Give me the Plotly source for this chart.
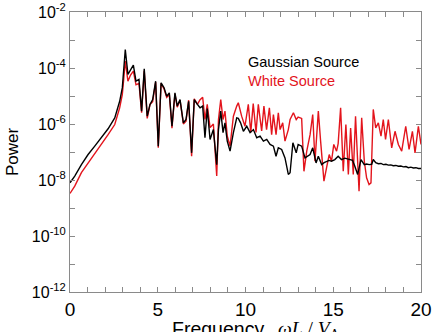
import plotly.graph_objects as go

# Frequency (omega L / V_A) and log10(Power)
freq_gauss = [0.00, 0.27, 0.65, 1.03, 1.41, 1.78, 2.17, 2.55, 2.83, 2.98, 3.06, 3.15, 3.30, 3.45, 3.61,
              3.76, 3.93, 4.08, 4.23, 4.40, 4.56, 4.71, 4.88, 5.03, 5.19, 5.36, 5.51, 5.66, 5.81, 5.98,
              6.11, 6.27, 6.46, 6.61, 6.76, 6.93, 7.08, 7.26, 7.41, 7.56, 7.69, 7.82, 7.98, 8.17, 8.36,
              8.46, 8.59, 8.72, 8.83, 8.96, 9.12, 9.31, 9.50, 9.59, 9.72, 9.88, 10.07, 10.26, 10.45,
              10.64, 10.83, 11.02, 11.21, 11.40, 11.59, 11.74, 11.87, 12.06, 12.25, 12.44, 12.54, 12.70,
              12.89, 13.00, 13.20, 13.39, 13.54, 13.68, 13.83, 14.02, 14.15, 14.34, 14.48, 14.62, 14.76,
              14.90, 15.09, 15.28, 15.47, 15.66, 15.80, 15.95, 16.10, 16.23, 16.39, 16.58, 16.77, 16.90,
              17.05, 17.19, 17.28, 17.42, 17.57, 17.72, 17.85, 18.00, 18.14, 18.28, 18.42, 18.57, 18.71,
              18.85, 19.00, 19.14, 19.28, 19.42, 19.57, 19.71, 19.85, 20.00]
log_power_gauss = [-8.10, -7.86, -7.45, -7.09, -6.79, -6.49, -6.17, -5.78, -5.19, -4.71, -4.17, -3.34, -4.23, -4.05, -3.90,
                   -4.47, -4.41, -5.54, -4.03, -5.72, -5.30, -5.13, -4.47, -6.79, -4.53, -4.71, -5.01, -4.89, -6.08, -4.89,
                   -5.36, -5.13, -5.96, -5.84, -5.19, -7.03, -5.13, -5.30, -5.42, -5.36, -6.49, -5.45, -6.55, -6.20, -7.45,
                   -6.20, -5.54, -6.31, -5.96, -6.61, -6.97, -6.31, -5.78, -5.80, -5.96, -6.26, -6.08, -6.31, -6.20,
                   -6.49, -6.43, -6.61, -6.55, -6.73, -6.79, -7.15, -6.85, -6.91, -7.21, -7.80, -7.74, -6.67,
                   -7.03, -6.73, -6.79, -7.21, -7.15, -7.09, -6.85, -7.39, -7.15, -7.45, -7.38, -7.33, -7.30,
                   -7.33, -7.27, -7.15, -7.27, -7.22, -7.25, -7.27, -7.30, -7.51, -7.80, -7.27, -7.45, -7.43,
                   -7.45, -7.44, -7.27, -7.38, -7.42, -7.41, -7.45, -7.44, -7.47, -7.46, -7.49, -7.48, -7.51,
                   -7.50, -7.53, -7.52, -7.56, -7.54, -7.57, -7.56, -7.59, -7.59]

freq_white = [0.00, 0.27, 0.65, 1.03, 1.41, 1.78, 2.17, 2.55, 2.83, 2.98, 3.06, 3.15, 3.30, 3.45, 3.61,
              3.76, 3.93, 4.08, 4.23, 4.40, 4.56, 4.71, 4.88, 5.03, 5.19, 5.36, 5.51, 5.66, 5.81, 5.98,
              6.11, 6.27, 6.46, 6.61, 6.76, 6.93, 7.08, 7.26, 7.41, 7.56, 7.69, 7.82, 7.98, 8.17, 8.36,
              8.46, 8.59, 8.72, 8.83, 8.96, 9.12, 9.31, 9.50, 9.59, 9.78, 9.97, 10.16, 10.30, 10.44,
              10.60, 10.73, 10.92, 11.05, 11.20, 11.36, 11.49, 11.59, 11.74, 11.87, 11.97, 12.12, 12.25,
              12.44, 12.54, 12.73, 12.89, 13.00, 13.20, 13.33, 13.49, 13.68, 13.83, 13.96, 14.15, 14.28,
              14.47, 14.62, 14.77, 14.90, 15.03, 15.19, 15.28, 15.42, 15.57, 15.72, 15.86, 15.99, 16.14,
              16.27, 16.47, 16.62, 16.77, 16.90, 17.04, 17.15, 17.28, 17.42, 17.57, 17.72, 17.85, 17.98,
              18.14, 18.33, 18.52, 18.71, 18.90, 19.13, 19.32, 19.51, 19.66, 19.85, 20.00]
log_power_white = [-8.48, -8.22, -7.74, -7.39, -7.03, -6.73, -6.38, -6.02, -5.42, -4.95, -4.41, -3.75, -4.47, -4.25, -4.11,
                   -4.60, -4.55, -5.60, -4.10, -5.80, -5.30, -5.20, -4.50, -6.85, -4.55, -4.75, -5.05, -4.95, -6.15, -4.92,
                   -5.40, -5.15, -6.00, -5.90, -5.15, -7.15, -5.10, -5.30, -5.13, -5.05, -5.84, -5.30, -6.13, -6.00, -7.86,
                   -5.84, -5.13, -5.84, -5.54, -6.43, -6.79, -5.72, -5.36, -5.24, -5.72, -6.08, -5.30, -6.30, -5.27,
                   -6.30, -5.30, -6.25, -5.36, -6.20, -5.42, -6.38, -5.66, -6.38, -5.60, -6.20, -5.96, -6.61,
                   -6.20, -5.84, -5.60, -5.84, -5.75, -5.80, -7.69, -6.97, -6.38, -5.66, -7.33, -5.54, -6.61,
                   -8.04, -7.56, -7.09, -7.33, -6.73, -6.97, -6.70, -5.42, -7.69, -6.02, -7.80, -6.14, -7.80,
                   -5.72, -8.40, -5.78, -7.33, -7.92, -8.16, -8.10, -5.48, -6.14, -5.96, -6.43, -5.84, -6.55,
                   -5.84, -6.85, -6.26, -6.73, -6.97, -6.08, -6.91, -6.26, -7.03, -6.08, -6.73]

power_gauss = [10 ** v for v in log_power_gauss]
power_white = [10 ** v for v in log_power_white]

y_tick_exponents = [-2, -3, -4, -5, -6, -7, -8, -9, -10, -11, -12]
x_tick_values = [0, 5, 10, 15, 20]

FONT = "Liberation Sans, Arial, Helvetica, sans-serif"
RED = "#e3141c"

fig = go.Figure()
fig.add_trace(go.Scatter(x=freq_white, y=power_white, mode="lines",
                         line=dict(color=RED, width=1.4), showlegend=False))
fig.add_trace(go.Scatter(x=freq_gauss, y=power_gauss, mode="lines",
                         line=dict(color="black", width=1.4), showlegend=False))

ytickvals = [10 ** e for e in y_tick_exponents]
yticktext = [f"10<sup>{e}</sup>" if e % 2 == 0 else "" for e in y_tick_exponents]

axis_line = "#8a8a8a"
fig.update_layout(
    width=432, height=332,
    margin=dict(l=70, r=11, t=12, b=40),
    paper_bgcolor="white", plot_bgcolor="white",
    font=dict(family=FONT, color="black"),
    xaxis=dict(range=[0, 20], tickvals=x_tick_values, ticks="inside", ticklen=5,
               tickcolor=axis_line, showline=True, linecolor=axis_line, linewidth=1,
               mirror="ticks", showgrid=False, zeroline=False, automargin=False,
               tickfont=dict(size=19, family=FONT),
               minor=dict(dtick=1, ticks="inside", ticklen=5, tickcolor=axis_line, showgrid=False)),
    yaxis=dict(type="log", range=[-12, -2], tickvals=ytickvals, ticktext=yticktext,
               ticks="inside", ticklen=5, tickcolor=axis_line, showline=True,
               linecolor=axis_line, linewidth=1, mirror="ticks", showgrid=False,
               zeroline=False, automargin=False, tickfont=dict(size=16, family=FONT)),
)

fig.add_annotation(text="Gaussian Source", xref="paper", yref="paper", x=0.5014, y=0.822,
                   xanchor="left", yanchor="middle", showarrow=False,
                   font=dict(size=14.5, color="black", family=FONT))
fig.add_annotation(text="White Source", xref="paper", yref="paper", x=0.5014, y=0.754,
                   xanchor="left", yanchor="middle", showarrow=False,
                   font=dict(size=14.5, color=RED, family=FONT))

# axis titles
fig.add_annotation(text="Power", xref="paper", yref="paper", x=-0.165, y=0.5,
                   xanchor="center", yanchor="middle", textangle=-90, showarrow=False,
                   font=dict(size=17, family=FONT))
fig.add_annotation(text="Frequency", xref="paper", yref="paper", x=(170 - 70) / 351, y=-0.086,
                   xanchor="left", yanchor="top", showarrow=False,
                   font=dict(size=19.5, family=FONT))
fig.add_annotation(text="<i>ωL</i> / <i>V</i><sub>A</sub>", xref="paper", yref="paper",
                   x=(276 - 70) / 351, y=-0.086, xanchor="left", yanchor="top", showarrow=False,
                   font=dict(size=19.5, family="Liberation Serif, Times New Roman, serif"))

fig.write_html("out.html")
